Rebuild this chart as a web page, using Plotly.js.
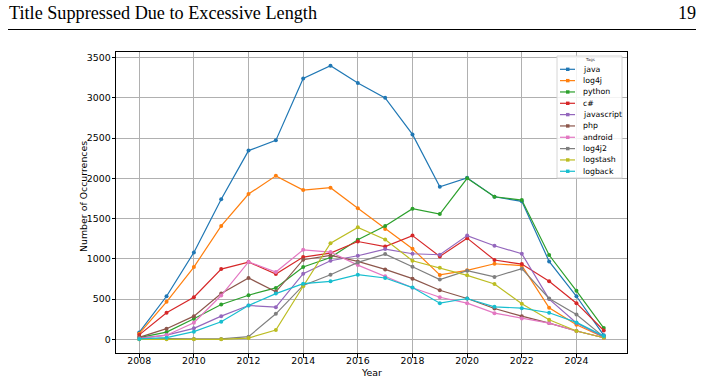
<!DOCTYPE html>
<html>
<head>
<meta charset="utf-8">
<script src="https://cdn.plot.ly/plotly-3.0.1.min.js"></script>
<style>
html,body{margin:0;padding:0;background:#fff;}
#chart{width:704px;height:381px;}
</style>
</head>
<body>
<div id="chart"></div>
<script>
// ---- data ----
var years = [2008,2009,2010,2011,2012,2013,2014,2015,2016,2017,2018,2019,2020,2021,2022,2023,2024,2025];
var tagNames = ["java","log4j","python","c#","javascript","php","android","log4j2","logstash","logback"];
var java       = [85, 535, 1080, 1740, 2345, 2472, 3240, 3400, 3185, 3000, 2546, 1895, 2006, 1771, 1715, 968, 535, 50];
var log4j      = [70, 466, 898, 1409, 1805, 2031, 1854, 1884, 1628, 1372, 1125, 800, 857, 939, 915, 392, 181, 25];
var python     = [20, 90, 256, 433, 548, 639, 898, 1017, 1236, 1409, 1623, 1557, 2000, 1771, 1730, 1047, 602, 140];
var csharp     = [55, 330, 523, 873, 960, 812, 1022, 1071, 1215, 1153, 1289, 1030, 1257, 985, 935, 721, 449, 110];
var javascript = [15, 53, 136, 288, 420, 400, 816, 976, 1038, 1121, 1063, 1051, 1289, 1162, 1063, 500, 202, 30];
var php        = [25, 132, 288, 568, 762, 590, 989, 1042, 968, 869, 754, 610, 507, 383, 288, 202, 103, 20];
var android    = [10, 50, 206, 544, 962, 837, 1112, 1084, 922, 783, 640, 523, 449, 325, 260, 202, 103, 20];
var log4j2     = [0, 10, 5, 5, 33, 317, 670, 803, 956, 1059, 902, 742, 853, 775, 878, 507, 309, 30];
var logstash   = [0, 0, 0, 0, 16, 115, 659, 1195, 1391, 1240, 976, 890, 795, 688, 441, 243, 103, 20];
var logback    = [5, 20, 95, 218, 420, 568, 692, 721, 803, 762, 643, 449, 507, 404, 387, 330, 210, 40];
var seriesValues = [java, log4j, python, csharp, javascript, php, android, log4j2, logstash, logback];
var colors = ["#1f77b4","#ff7f0e","#2ca02c","#d62728","#9467bd","#8c564b","#e377c2","#7f7f7f","#bcbd22","#17becf"];
var xTicks = [2008,2010,2012,2014,2016,2018,2020,2022,2024];

// ---- geometry helpers (pixel -> paper) ----
var W = 704, H = 381;
var M = {l:116, r:77, t:52, b:28};
var PW = W - M.l - M.r, PH = H - M.t - M.b;
function px(x){ return (x - M.l) / PW; }
function py(y){ return (H - M.b - y) / PH; }

var traces = tagNames.map(function(n, i){
  return {
    x: years, y: seriesValues[i], name: n, type: 'scatter', mode: 'lines+markers',
    line: {color: colors[i], width: 1.2},
    marker: {color: colors[i], size: 4, symbol: 'circle'},
    showlegend: false, hoverinfo: 'x+y+name'
  };
});

var shapes = [];
var annotations = [];
var axisFont = {family:'DejaVu Sans, sans-serif', size:9.4, color:'#000'};

// page header
annotations.push({xref:'paper', yref:'paper', x:px(7), y:py(13), xanchor:'left', yanchor:'middle',
  text:'Title Suppressed Due to Excessive Length', showarrow:false,
  font:{family:'Liberation Serif, DejaVu Serif, serif', size:18.2, color:'#000'}});
annotations.push({xref:'paper', yref:'paper', x:px(698), y:py(13), xanchor:'right', yanchor:'middle',
  text:'19', showarrow:false,
  font:{family:'Liberation Serif, DejaVu Serif, serif', size:18.2, color:'#000'}});
shapes.push({type:'line', xref:'paper', yref:'paper', x0:px(8), x1:px(696), y0:py(29.5), y1:py(29.5),
  line:{color:'#000', width:1}});

// axis titles
annotations.push({xref:'paper', yref:'paper', x:px(371), y:py(372), xanchor:'center', yanchor:'middle',
  text:'Year', showarrow:false, font:axisFont});
annotations.push({xref:'paper', yref:'paper', x:px(83), y:py(197), xanchor:'center', yanchor:'middle',
  text:'Number of Occurrences', showarrow:false, textangle:-90, font:axisFont});

// custom legend (matplotlib style)
var lgL = 557, lgT = 56, lgR = 622, lgB = 178;
shapes.push({type:'rect', xref:'paper', yref:'paper', x0:px(lgL), x1:px(lgR), y0:py(lgT), y1:py(lgB),
  line:{color:'#d6d6d6', width:1}, fillcolor:'rgba(255,255,255,0.85)', layer:'above'});
annotations.push({xref:'paper', yref:'paper', x:px((lgL+lgR)/2), y:py(60), xanchor:'center', yanchor:'middle',
  text:'Tags', showarrow:false, font:{family:'DejaVu Sans, sans-serif', size:4, color:'#333'}});
var firstY = 69.3, stepY = 11.33;
tagNames.forEach(function(n, i){
  var yy = firstY + i*stepY;
  shapes.push({type:'line', xref:'paper', yref:'paper', x0:px(560), x1:px(575), y0:py(yy), y1:py(yy),
    line:{color:colors[i], width:1.2}, layer:'above'});
  shapes.push({type:'rect', xref:'paper', yref:'paper', x0:px(566), x1:px(569.5), y0:py(yy-1.7), y1:py(yy+1.7),
    line:{width:0}, fillcolor:colors[i], layer:'above'});
  annotations.push({xref:'paper', yref:'paper', x:px(581), y:py(yy), xanchor:'left', yanchor:'middle',
    text:n, showarrow:false, font:{family:'DejaVu Sans, sans-serif', size:7.8, color:'#000'}});
});

var layout = {
  width: W, height: H,
  margin: {l:M.l, r:M.r, t:M.t, b:M.b, pad:0},
  paper_bgcolor:'#fff', plot_bgcolor:'#fff',
  showlegend:false,
  xaxis: {
    range:[2007.15, 2025.85], tickvals:xTicks, ticktext:xTicks.map(String),
    showgrid:true, gridcolor:'#b0b0b0', gridwidth:1, zeroline:false,
    showline:true, mirror:true, linecolor:'#000', linewidth:1,
    ticks:'outside', ticklen:3.5, tickwidth:1, tickcolor:'#000',
    ticklabelstandoff:-5,
    tickfont:axisFont
  },
  yaxis: {
    range:[-170, 3570], dtick:500, tick0:0,
    showgrid:true, gridcolor:'#b0b0b0', gridwidth:1, zeroline:false,
    showline:true, mirror:true, linecolor:'#000', linewidth:1,
    ticks:'outside', ticklen:3.5, tickwidth:1, tickcolor:'#000',
    ticklabelstandoff:-1,
    tickfont:axisFont
  },
  shapes: shapes,
  annotations: annotations
};

Plotly.newPlot('chart', traces, layout, {displayModeBar:false, staticPlot:true});
</script>
</body>
</html>
